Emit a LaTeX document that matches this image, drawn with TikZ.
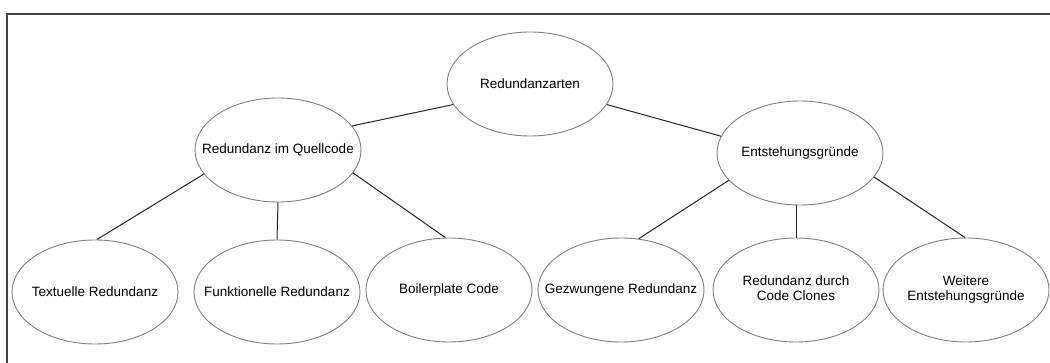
\documentclass[tikz,border=0pt]{standalone}
\usepackage{fontspec}
\setmainfont{Liberation Sans}
\usetikzlibrary{shapes.geometric}
\definecolor{framegray}{HTML}{454545}
\definecolor{ellgray}{HTML}{808080}
\definecolor{linegray}{HTML}{262626}
\tikzset{
  bub/.style={ellipse, draw=ellgray, line width=0.9pt, minimum width=166pt, minimum height=104pt,
    inner sep=0pt, font=\fontsize{13.5}{15.5}\selectfont, text=black},
  conn/.style={draw=linegray, line width=1pt},
  frameline/.style={draw=framegray, line width=1.7pt}
}
\newcommand{\zw}[1]{\makebox[0pt]{#1}}
\newcommand{\zwtwo}[2]{\makebox[0pt]{\begin{tabular}{@{}c@{}}#1\\#2\end{tabular}}}
\begin{document}
\begin{tikzpicture}[x=1pt,y=-1pt]
\useasboundingbox (0,0) rectangle (1050,363);
\coordinate (fa) at (1050,14);
\coordinate (fc) at (7,14);
\coordinate (fb) at (7,363);
\draw[frameline] (fa) -- (fc) -- (fb);

\node[bub] (root) at (530,84) {\zw{Redundanzarten}};
\node[bub] (q) at (278,150) {\zw{Redundanz im Quellcode}};
\node[bub] (e) at (800,153) {\zw{Entstehungsgründe}};
\node[bub] (t) at (95,292) {\zw{Textuelle Redundanz}};
\node[bub] (f) at (277,292) {\zw{Funktionelle Redundanz}};
\node[bub] (b) at (449,290) {\zw{Boilerplate Code}};
\node[bub] (g) at (621,290) {\zw{Gezwungene Redundanz}};
\node[bub] (c) at (796,290) {\zwtwo{Redundanz durch}{Code Clones}};
\node[bub] (w) at (966,290) {\zwtwo{Weitere}{Entstehungsgründe}};

\draw[conn] (root.195) -- (q.18.7);
\draw[conn] (root.345) -- (e.168.5);
\draw[conn] (q.198.4) -- (t.88);
\draw[conn] (q.270) -- (f.90);
\draw[conn] (q.343.4) -- (b.94.3);
\draw[conn] (e.201.7) -- (g.71.2);
\draw[conn] (e.south -| c.north) -- (c.north);
\draw[conn] (e.342) -- (w.91);
\end{tikzpicture}
\end{document}
